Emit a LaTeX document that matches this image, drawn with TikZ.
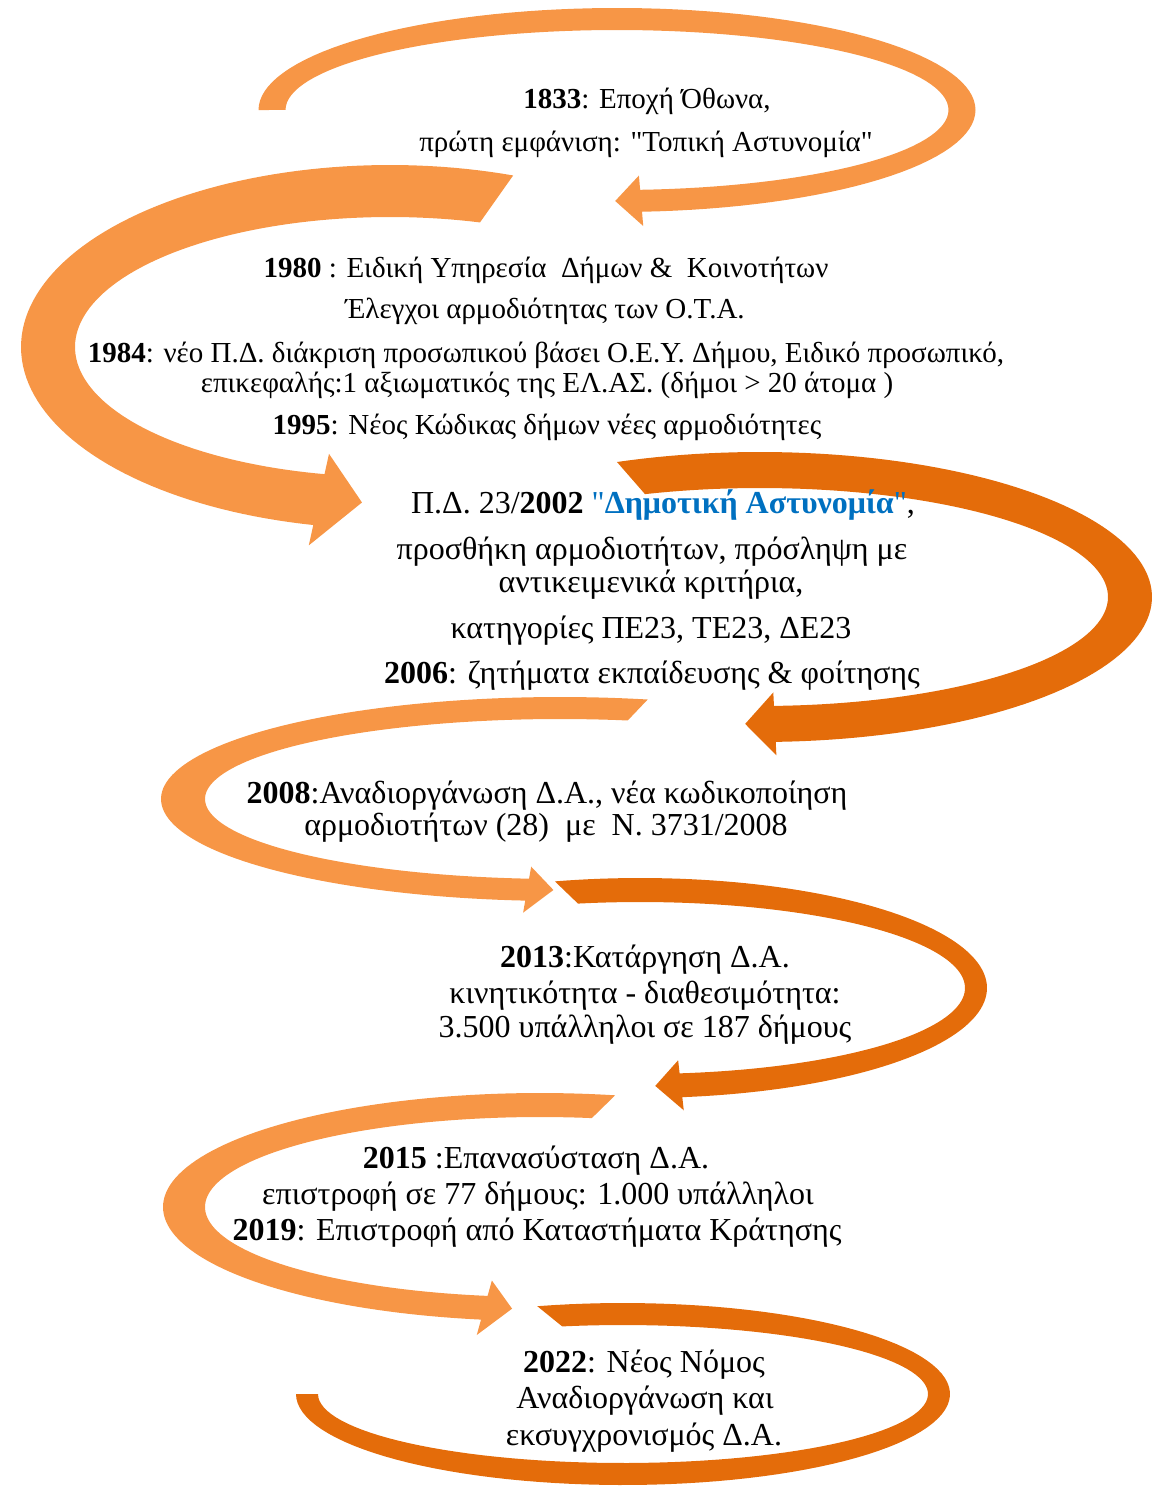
\documentclass[tikz,border=0pt]{standalone}
\usepackage{fontspec}
\setmainfont{Liberation Serif}
\definecolor{lightor}{HTML}{F79646}
\definecolor{darkor}{HTML}{E46C0A}
\definecolor{dablue}{HTML}{0070C0}
% band on an ellipse (centre, radii, half widths, start, end) with a head
\newcommand{\curlarrow}[9]{%
  plot[domain=#7:#8] ({#1+(#3+#5)*cos(\x)},{#2+(#4+#6)*sin(\x)})
  -- ({#1+(#3+\headk*#5)*cos(#8)},{#2+(#4+\headk*#6)*sin(#8)})
  -- ({#1+#3*cos((#8)+(#9))},{#2+#4*sin((#8)+(#9))})
  -- ({#1+(#3-\headk*#5)*cos(#8)},{#2+(#4-\headk*#6)*sin(#8)})
  -- plot[domain=#8:\tailin] ({#1+(#3-#5)*cos(\x)},{#2+(#4-#6)*sin(\x)})
  -- cycle}
\def\headk{2}
\def\tailin{0}
\newcommand{\qq}{\textquotedbl}
\begin{document}
\begin{tikzpicture}
[x=1pt, y=-1pt, samples=100,
 txt/.style ={anchor=base, inner sep=0pt, font=\fontsize{29}{33}\selectfont},
 bigtxt/.style ={txt, font=\fontsize{32}{36}\selectfont}]
\useasboundingbox (0,0) rectangle (1152,1488);
% arrows, top to bottom
\def\headk{2.3}\def\tailin{-180}
\fill[lightor] \curlarrow{617}{110}{345}{91}{13.5}{11}{-180}{86}{4.3};
\def\headk{1.8}\def\tailin{-73.4}
\fill[lightor] \curlarrow{390}{347}{342}{156}{27}{26}{-70.5}{-258}{-7.3};
\def\headk{1.75}\def\tailin{-109.3}
\fill[darkor] \curlarrow{760}{597}{370}{127}{22}{18}{-111.4}{87.7}{4.6};
\def\headk{2.1}\def\tailin{-79}
\fill[lightor] \curlarrow{560}{799}{377}{91}{22}{11}{-77.3}{-265}{-4};
\def\tailin{-101}
\fill[darkor] \curlarrow{640}{988}{336}{98}{11}{12}{-104.2}{83}{4.4};
\def\headk{2.3}\def\tailin{-81.1}
\fill[lightor] \curlarrow{540}{1207}{356}{102}{21}{12}{-78.5}{-261}{-4.5};
\def\headk{1}\def\tailin{-101.5}
\fill[darkor] \curlarrow{623}{1394}{316}{80}{11}{11}{-105.2}{180}{0};
% 1833
\node[txt] (t1833a) at (647,108) {\textbf{1833}: Εποχή Όθωνα,};
\node[txt] (t1833b) at (646,151) {πρώτη εμφάνιση: \qq Τοπική Αστυνομία\qq};
% 1980 - 1995
\node[txt] (t1980) at (546,277) {\textbf{1980} : Ειδική Υπηρεσία\ \ Δήμων \&\ \ Κοινοτήτων};
\node[txt] (tota) at (545,318) {Έλεγχοι αρμοδιότητας των Ο.Τ.Α.};
\node[txt] (t1984a) at (546,362) {\textbf{1984}: νέο Π.Δ. διάκριση προσωπικού βάσει Ο.Ε.Υ. Δήμου, Ειδικό προσωπικό,};
\node[txt] (t1984b) at (547,392) {επικεφαλής:1 αξιωματικός της ΕΛ.ΑΣ. (δήμοι > 20 άτομα )};
\node[txt] (t1995) at (547,434) {\textbf{1995}: Νέος Κώδικας δήμων νέες αρμοδιότητες};
% 2002 - 2006
\node[bigtxt] (t2002) at (663,513) {Π.Δ. 23/\textbf{2002} \textcolor{dablue}{\qq\textbf{Δημοτική Αστυνομία}\qq},};
\node[bigtxt] (tprosth) at (652,559) {προσθήκη αρμοδιοτήτων, πρόσληψη με};
\node[bigtxt] (tkrit) at (651,592) {αντικειμενικά κριτήρια,};
\node[bigtxt] (tkat) at (651,638) {κατηγορίες ΠΕ23, ΤΕ23, ΔΕ23};
\node[bigtxt] (t2006) at (652,683) {\textbf{2006}: ζητήματα εκπαίδευσης \& φοίτησης};
% 2008
\node[bigtxt] (t2008a) at (547,803) {\textbf{2008}:Αναδιοργάνωση Δ.Α., νέα κωδικοποίηση};
\node[bigtxt] (t2008b) at (546,835) {αρμοδιοτήτων (28)\ \ με\ \ Ν. 3731/2008};
% 2013
\node[bigtxt] (t2013a) at (645,967) {\textbf{2013}:Κατάργηση Δ.Α.};
\node[bigtxt] (t2013b) at (645,1003) {κινητικότητα - διαθεσιμότητα:};
\node[bigtxt] (t2013c) at (645,1037) {3.500 υπάλληλοι σε 187 δήμους};
% 2015 - 2019
\node[bigtxt] (t2015a) at (536,1168) {\textbf{2015} :Επανασύσταση Δ.Α.};
\node[bigtxt] (t2015b) at (538,1204) {επιστροφή σε 77 δήμους: 1.000 υπάλληλοι};
\node[bigtxt] (t2019) at (537,1240) {\textbf{2019}: Επιστροφή από Καταστήματα Κράτησης};
% 2022
\node[bigtxt] (t2022a) at (644,1372) {\textbf{2022}: Νέος Νόμος};
\node[bigtxt] (t2022b) at (645,1408) {Αναδιοργάνωση και};
\node[bigtxt] (t2022c) at (644,1445) {εκσυγχρονισμός Δ.Α.};
\end{tikzpicture}
\end{document}
